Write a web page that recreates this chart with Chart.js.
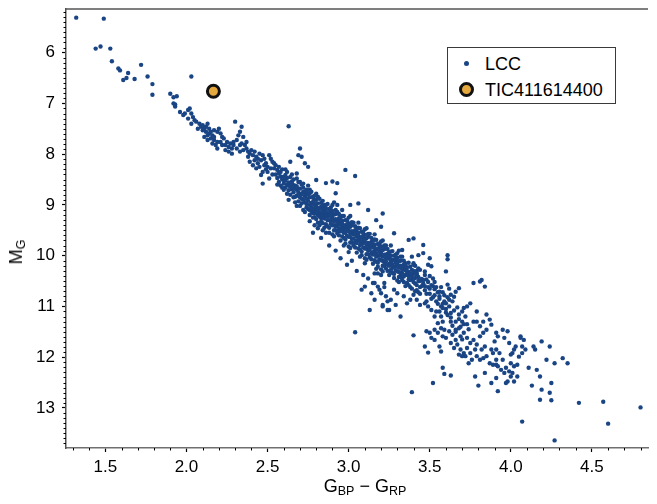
<!DOCTYPE html>
<html><head><meta charset="utf-8">
<script src="https://cdn.jsdelivr.net/npm/chart.js@4.4.1/dist/chart.umd.min.js"></script>
<style>
html,body{margin:0;padding:0;background:#fff;}
#wrap{position:relative;width:657px;height:504px;font-family:"Liberation Sans",Arial,sans-serif;color:#000;overflow:hidden;}
canvas{display:block;}
.ttl{position:absolute;white-space:nowrap;font-size:18px;line-height:18px;}
.ttl sub{font-size:12.5px;vertical-align:-3px;line-height:0;}
#xt{left:66px;width:598px;top:477px;text-align:center;}
#yt{left:16px;top:252px;transform:translate(-50%,-50%) rotate(-90deg);}
#legend{position:absolute;left:447px;top:47px;width:167px;height:55px;border:1px solid #3a3a3a;background:#fff;font-size:18px;line-height:18px;}
#legend .mk{position:absolute;border-radius:50%;box-sizing:border-box;}
#legend .tx{position:absolute;left:37px;white-space:nowrap;}
</style></head>
<body>
<div id="wrap">
<canvas id="c" width="657" height="504"></canvas>
<div class="ttl" id="xt">G<sub>BP</sub> − G<sub>RP</sub></div>
<div class="ttl" id="yt">M<sub>G</sub></div>
<div id="legend">
 <span class="mk" id="mk1"></span><span class="tx" id="tx1" style="top:7px"></span>
 <span class="mk" id="mk2"></span><span class="tx" id="tx2" style="top:33px"></span>
</div>
</div>
<script>
// ---- data (BP-RP colour, absolute G magnitude) ----
const lccLabel = 'LCC';
const targetLabel = 'TIC411614400';
const targetStar = [[2.166, 6.76]];
const lccStars = [
[1.32,5.31],[1.49,5.33],[1.44,5.92],[1.47,5.88],[1.53,5.92],[1.54,6.17],[1.58,6.31],[1.59,6.35],[1.64,6.40],[1.63,6.50],[1.61,6.54],[1.68,6.52],[1.72,6.24],[1.76,6.47],[1.79,6.62],[1.79,6.83],[2.03,6.47],[1.90,6.81],[1.92,6.88],[1.94,6.86],[1.93,7.02],
[1.92,7.00],[1.93,7.06],[1.96,7.17],[1.98,7.23],[1.99,7.20],[2.01,7.13],[2.02,7.10],[2.03,7.20],[2.01,7.30],[2.04,7.27],[2.05,7.33],[2.03,7.40],[2.06,7.36],[2.08,7.40],[2.07,7.50],[2.09,7.46],[2.10,7.43],[2.11,7.50],[2.12,7.46],[2.13,7.40],[2.14,7.50],[2.15,7.56],[2.12,7.56],[2.13,7.63],[2.16,7.63],[2.15,7.69],[2.17,7.72],[2.18,7.82],[2.17,7.53],[2.19,7.56],[2.20,7.50],[2.21,7.59],[2.22,7.66],[2.23,7.69],[2.25,7.76],[2.24,7.82],[2.26,7.86],[2.27,7.79],[2.28,7.89],[2.29,7.82],[2.30,7.36],[2.31,7.72],[2.32,7.63],[2.33,7.56],[2.34,7.46],[2.35,7.66],[2.34,7.79],[2.36,7.82],[2.37,7.89],[2.38,7.95],[2.39,7.99],[2.40,7.92],[2.41,8.02],[2.42,7.95],[2.43,8.05],[2.44,8.09],[2.45,7.99],[2.46,8.12],[2.47,8.02],[2.48,8.09],[2.39,8.15],[2.41,8.22],[2.43,8.28],[2.45,8.25],[2.47,8.35],[2.48,8.22],[2.46,8.41],[2.47,8.58],[2.44,8.18],[2.42,8.12],[2.38,8.05],[2.35,7.92],[2.33,7.95],[2.31,7.89],[2.28,7.99],[2.26,7.95],[2.24,7.92],[2.22,7.82],[2.21,7.76],[2.19,7.76],[2.17,7.66],[2.14,7.59],[2.10,7.53],[2.11,7.66],[2.13,7.72],[2.16,7.79],[2.19,7.89],[2.29,7.76],[2.33,7.82],[2.37,7.76],
[2.49,8.18],[2.50,8.25],[2.51,8.02],[2.52,8.09],[2.53,8.15],[2.54,8.28],[2.55,8.22],[2.56,8.31],[2.57,8.38],[2.59,8.45],[2.60,8.51],[2.61,8.41],[2.62,8.35],[2.63,7.45],[2.64,8.15],[2.65,8.54],[2.66,8.61],[2.67,8.64],[2.68,8.38],[2.69,8.02],[2.70,7.89],[2.71,8.05],[2.72,8.58],[2.73,8.18],[2.74,8.71],[2.75,8.25],[2.76,8.77],[2.77,8.97],[2.78,8.84],[2.79,8.90],[2.80,9.10],[2.81,9.46],[2.82,9.23],[2.83,9.04],[2.84,9.17],
[2.50,8.35],[2.52,8.28],[2.53,8.40],[2.54,8.18],[2.51,8.48],[2.49,8.30],
[2.80,8.51],[2.86,8.57],[2.90,8.54],[2.93,8.57],[2.98,8.31],[3.04,8.43],[2.92,8.77],[2.93,9.00],[3.01,9.00],[3.06,8.97],[3.12,9.10],[3.21,9.17],[3.17,9.30],[3.20,9.43],[3.28,9.56],[3.37,9.69],[3.40,9.66],[3.33,9.89],
[2.55,8.40],[2.56,8.47],[2.57,8.36],[2.57,8.55],[2.58,8.44],[2.58,8.62],[2.59,8.50],[2.59,8.30],[2.60,8.58],[2.60,8.45],[2.61,8.66],[2.61,8.52],
[2.56,8.60],[2.58,8.35],[2.60,8.70],[2.62,8.78],[2.64,8.45],[2.57,8.25],[2.61,8.30],[2.63,8.62],[2.66,8.85],[2.59,8.66],
[2.62,8.60],[2.62,8.47],[2.63,8.71],[2.63,8.56],[2.64,8.64],[2.64,8.80],[2.65,8.58],[2.65,8.69],[2.66,8.75],[2.66,8.50],[2.67,8.62],[2.67,8.84],[2.63,8.90],[2.65,8.40],
[2.66,8.68],[2.67,8.95],[2.68,8.48],[2.69,8.68],[2.70,8.78],[2.71,8.88],[2.72,8.66],[2.73,8.76],[2.74,8.98],[2.75,8.62],[2.72,9.10],[2.70,8.55],[2.68,9.02],[2.74,8.80],[2.76,8.70],
[2.68,8.70],[2.68,8.82],[2.69,8.76],[2.69,8.93],[2.70,8.68],[2.70,8.85],[2.71,8.79],[2.71,8.60],[2.72,8.90],[2.72,8.74],[2.70,9.02],[2.69,8.55],[2.71,8.97],[2.68,8.63],
[2.73,8.83],[2.73,8.95],[2.74,8.88],[2.74,9.05],[2.75,8.78],[2.75,8.92],[2.76,9.00],[2.76,8.85],[2.77,8.96],[2.77,9.12],[2.74,8.70],[2.76,9.20],[2.75,9.08],[2.73,9.14],[2.77,8.74],
[2.76,9.10],[2.77,9.04],[2.78,8.86],[2.79,9.08],[2.80,8.98],[2.81,9.20],[2.82,9.14],[2.83,8.96],[2.84,9.02],[2.85,9.22],[2.78,9.16],[2.80,8.78],[2.82,9.40],[2.84,9.36],[2.76,9.32],[2.81,8.84],[2.83,9.26],[2.85,9.07],[2.79,9.24],[2.86,9.55],
[2.78,8.94],[2.78,9.08],[2.79,9.00],[2.79,9.16],[2.80,8.90],[2.80,9.04],[2.81,9.10],[2.81,8.97],[2.82,9.06],[2.82,9.22],[2.79,8.82],[2.80,9.28],[2.81,9.35],[2.78,9.25],[2.82,8.88],[2.80,9.15],[2.79,9.40],
[2.83,9.05],[2.83,9.18],[2.84,9.10],[2.84,9.25],[2.85,9.00],[2.85,9.14],[2.86,9.20],[2.86,9.07],[2.87,9.16],[2.87,9.30],[2.84,8.92],[2.86,9.38],[2.85,9.45],[2.83,9.33],[2.87,8.98],[2.85,9.27],[2.84,9.50],
[2.86,9.13],[2.87,9.23],[2.88,9.08],[2.89,9.30],[2.90,9.20],[2.91,9.40],[2.92,9.18],[2.93,9.36],[2.94,9.26],[2.95,9.46],[2.87,9.42],[2.89,9.14],[2.91,9.62],[2.93,9.14],[2.88,9.55],[2.90,9.00],[2.92,9.50],[2.94,9.60],[2.86,9.00],[2.95,9.32],
[2.88,9.18],[2.88,9.30],[2.89,9.22],[2.89,9.37],[2.90,9.12],[2.90,9.26],[2.91,9.32],[2.91,9.19],[2.92,9.28],[2.92,9.42],[2.89,9.05],[2.91,9.50],[2.90,9.58],[2.88,9.45],[2.92,9.10],[2.90,9.40],[2.91,8.95],
[2.93,9.30],[2.93,9.42],[2.94,9.34],[2.94,9.49],[2.95,9.25],[2.95,9.38],[2.96,9.44],[2.96,9.31],[2.97,9.40],[2.97,9.55],[2.94,9.18],[2.96,9.62],[2.95,9.70],[2.93,9.56],[2.97,9.22],[2.95,9.52],[2.96,9.10],
[2.96,9.37],[2.97,9.48],[2.98,9.30],[2.99,9.52],[3.00,9.43],[3.01,9.63],[3.02,9.40],[3.03,9.58],[3.04,9.50],[3.05,9.70],[2.97,9.65],[2.99,9.38],[3.01,9.85],[3.03,9.35],[2.98,9.76],[3.00,9.25],[3.02,9.74],[3.04,9.84],[2.96,9.22],[3.05,9.55],[3.00,9.93],[2.97,9.80],
[2.98,9.42],[2.98,9.55],[2.99,9.46],[2.99,9.61],[3.00,9.36],[3.00,9.50],[3.01,9.56],[3.01,9.43],[3.02,9.52],[3.02,9.67],[2.99,9.30],[3.01,9.74],[3.00,9.82],[2.98,9.68],[3.02,9.34],[3.00,9.63],[3.01,9.22],
[3.03,9.53],[3.03,9.66],[3.04,9.58],[3.04,9.73],[3.05,9.48],[3.05,9.62],[3.06,9.68],[3.06,9.55],[3.07,9.64],[3.07,9.79],[3.04,9.42],[3.06,9.86],[3.05,9.94],[3.03,9.80],[3.07,9.46],[3.05,9.75],[3.06,9.35],
[3.06,9.60],[3.07,9.71],[3.08,9.53],[3.09,9.75],[3.10,9.66],[3.11,9.86],[3.12,9.63],[3.13,9.82],[3.14,9.73],[3.15,9.93],[3.07,9.88],[3.09,9.60],[3.11,10.08],[3.13,9.57],[3.08,9.99],[3.10,9.48],[3.12,9.97],[3.14,10.07],[3.06,9.45],[3.15,9.78],[3.10,10.15],[3.07,10.02],
[3.08,9.64],[3.08,9.77],[3.09,9.69],[3.09,9.84],[3.10,9.59],[3.10,9.72],[3.11,9.79],[3.11,9.66],[3.12,9.75],[3.12,9.90],[3.09,9.53],[3.11,9.97],[3.10,10.05],[3.08,9.92],[3.12,9.57],[3.10,9.86],[3.11,9.46],
[3.13,9.76],[3.13,9.89],[3.14,9.81],[3.14,9.96],[3.15,9.70],[3.15,9.84],[3.16,9.91],[3.16,9.78],[3.17,9.87],[3.17,10.02],[3.14,9.65],[3.16,10.09],[3.15,10.16],[3.13,10.03],[3.17,9.69],[3.15,9.98],[3.16,9.58],
[3.16,9.84],[3.17,9.95],[3.18,9.77],[3.19,9.99],[3.20,9.90],[3.21,10.10],[3.22,9.87],[3.23,10.05],[3.24,9.96],[3.25,10.16],[3.17,10.12],[3.19,9.83],[3.21,10.31],[3.23,9.80],[3.18,10.22],[3.20,9.72],[3.22,10.20],[3.24,10.30],[3.16,9.68],[3.25,10.01],[3.20,10.38],[3.17,10.26],
[3.18,9.87],[3.18,10.00],[3.19,9.92],[3.19,10.07],[3.20,9.82],[3.20,9.95],[3.21,10.02],[3.21,9.89],[3.22,9.98],[3.22,10.13],[3.19,9.76],[3.21,10.20],[3.20,10.27],[3.18,10.14],[3.22,9.80],[3.20,10.09],[3.21,9.70],
[3.23,9.98],[3.23,10.11],[3.24,10.03],[3.24,10.18],[3.25,9.93],[3.25,10.06],[3.26,10.13],[3.26,10.00],[3.27,10.09],[3.27,10.24],[3.24,9.87],[3.26,10.31],[3.25,10.38],[3.23,10.25],[3.27,9.91],[3.25,10.20],[3.26,9.80],
[3.26,10.07],[3.27,10.18],[3.28,10.00],[3.29,10.22],[3.30,10.12],[3.31,10.32],[3.32,10.10],[3.33,10.27],[3.34,10.18],[3.35,10.38],[3.27,10.34],[3.29,10.05],[3.31,10.52],[3.33,10.02],[3.28,10.44],[3.30,9.95],[3.32,10.42],[3.34,10.52],[3.26,9.92],[3.35,10.23],
[3.28,10.09],[3.28,10.22],[3.29,10.14],[3.29,10.29],[3.30,10.04],[3.30,10.17],[3.31,10.24],[3.31,10.11],[3.32,10.20],[3.32,10.35],[3.29,9.98],[3.31,10.42],[3.30,10.49],[3.28,10.36],[3.32,10.02],[3.30,10.31],[3.31,9.90],
[3.33,10.21],[3.33,10.34],[3.34,10.26],[3.34,10.41],[3.35,10.16],[3.35,10.29],[3.36,10.36],[3.36,10.23],[3.37,10.32],[3.37,10.47],[3.34,10.10],[3.36,10.54],[3.35,10.60],[3.33,10.48],[3.37,10.14],
[3.36,10.30],[3.37,10.40],[3.38,10.22],[3.39,10.46],[3.40,10.36],[3.41,10.55],[3.42,10.30],[3.43,10.42],[3.44,10.50],[3.45,10.60],[3.37,10.58],[3.39,10.28],[3.41,10.70],[3.43,10.25],[3.38,10.62],[3.40,10.15],[3.42,10.68],[3.44,10.75],
[3.38,10.35],[3.38,10.48],[3.39,10.40],[3.40,10.30],[3.40,10.52],[3.41,10.44],[3.42,10.58],[3.42,10.37],[3.43,10.50],[3.44,10.62],[3.44,10.28],[3.45,10.46],[3.39,10.65],[3.41,10.20],[3.43,10.72],
[3.46,10.55],[3.47,10.68],[3.48,10.47],[3.49,10.62],[3.50,10.75],[3.51,10.58],[3.52,10.82],[3.53,10.66],[3.54,10.90],[3.55,10.72],[3.47,10.38],[3.50,10.40],[3.53,10.52],[3.56,10.85],[3.57,10.62],[3.58,10.95],[3.59,10.78],[3.60,11.05],
[3.46,10.48],[3.47,10.60],[3.48,10.75],[3.49,10.52],[3.50,10.65],[3.51,10.85],[3.52,10.60],[3.53,10.78],[3.54,10.62],[3.55,10.95],[3.56,10.80],[3.57,11.00],[3.58,10.72],[3.59,10.90],[3.60,11.12],[3.61,10.82],[3.62,11.00],[3.63,11.22],[3.64,10.90],[3.65,11.08],[3.66,11.30],[3.67,11.02],[3.68,11.25],[3.69,11.40],[3.70,11.10],[3.71,11.35],[3.72,11.20],[3.74,11.45],[3.48,10.90],[3.52,10.45],[3.57,11.20],[3.62,10.65],[3.66,11.50],[3.70,11.65],[3.73,11.35],[3.64,11.38],[3.58,11.30],[3.54,11.10],
[3.16,10.54],[3.20,10.74],[3.22,10.62],[3.24,10.90],[3.25,11.07],[3.21,11.00],[3.29,10.97],[3.32,11.20],[3.12,10.45],[3.05,10.30],[3.09,10.38],[2.95,10.05],[2.99,10.18],[3.02,10.10],[2.88,9.80],[2.83,9.65],[2.78,9.55],[2.92,9.90],[3.18,10.35],
[3.46,9.79],[3.43,9.99],[3.46,9.95],[3.61,10.07],[3.49,10.18],[3.47,10.31],[3.82,10.48],[3.73,11.00],[3.79,11.10],[3.85,11.16],[3.65,10.81],[3.63,11.13],[3.56,10.71],
[3.61,9.99],[3.60,10.31],[3.61,10.57],[3.50,10.05],[3.51,10.21],[3.39,10.02],[3.40,10.18],[3.42,10.35],[3.35,10.15],[3.33,10.41],[3.26,10.28],[3.22,10.54],[3.16,10.35],[3.18,10.61],[3.10,10.61],[3.08,10.67],[3.14,10.74],[3.13,11.07],[3.16,10.87],[3.21,10.97],[3.24,11.07],[3.26,10.87],[3.15,10.54],[3.19,10.67],[3.23,10.80],[3.28,10.67],[3.30,10.74],[3.34,10.80],[3.36,10.94],[3.38,10.87],[3.40,10.77],[3.42,10.87],[3.44,10.97],[3.47,10.94],[3.49,11.00],[3.51,11.07],[3.53,11.20],[3.56,11.10],[3.58,11.03],[3.60,10.94],[3.62,10.87],[3.63,10.77],[3.66,10.71],[3.68,10.64],[3.61,11.17],[3.63,11.30],[3.55,11.33],[3.57,11.43],[3.59,11.46],[3.62,11.49],[3.64,11.56],[3.66,11.46],[3.68,11.43],[3.69,11.59],[3.71,11.52],[3.73,11.62],[3.66,11.66],[3.67,11.75],[3.69,11.85],[3.71,11.92],[3.73,11.82],[3.75,11.72],[3.77,11.66],[3.78,11.85],[3.79,11.75],[3.81,11.59],[3.83,11.52],[3.85,11.46],[3.87,11.26],[3.88,11.36],[3.81,10.51],[3.84,10.61],[3.77,10.54],[3.75,10.94],[3.71,11.03],[3.68,11.16],[3.70,11.30],[3.77,11.30],[3.79,11.30],[3.81,11.39],[3.83,11.30],[3.84,11.79],[3.83,12.02],[3.81,12.05],[3.85,11.98],[3.87,12.12],[3.89,12.15],[3.91,12.05],[3.92,12.18],[3.94,12.25],[3.96,12.31],[3.97,12.21],[3.99,12.28],[4.01,12.31],[3.98,12.48],[3.97,12.51],[4.02,12.48],[4.04,12.15],[4.06,11.62],[4.08,11.66],[4.07,11.79],[4.03,11.79],[4.02,11.85],[4.01,11.92],[4.07,11.92],[4.11,12.21],[4.14,11.79],[4.16,12.25],[4.18,12.38],[4.19,11.69],[4.24,11.79],[4.22,12.05],[4.27,12.12],[4.32,12.02],[4.35,12.12],[4.19,12.64],[4.24,12.70],[4.25,12.51],[4.13,12.56],[4.18,12.84],[4.25,12.85],[3.91,12.41],[3.88,12.51],[3.92,12.67],[3.80,12.56],[3.78,12.38],[3.84,12.31],[3.47,11.79],[3.49,11.91],[3.52,12.51],[3.58,12.21],[3.59,12.33],[3.63,12.36],[3.57,11.89],[3.56,11.79],[3.53,11.66],[3.51,11.62],[3.48,11.49],[3.50,11.52],[3.53,11.46],[3.55,11.52],[3.58,11.59],[3.60,11.62],[3.63,11.72],[3.65,11.82],[3.68,11.95],[3.70,11.98],[3.72,11.98],[3.74,12.12],[3.76,12.05],[3.75,11.92],[3.79,11.98],[3.82,11.85],[3.88,11.85],[3.90,11.69],[3.92,11.59],[3.95,11.46],[3.98,11.49],[3.96,11.62],[3.99,11.72],[3.91,11.85],[3.89,11.92],[3.93,11.92],[3.95,12.05],[4.00,12.12],[4.02,12.18],[4.04,12.38],
[3.91,11.52],[4.06,11.59],[4.09,11.85],[4.15,11.85],[4.00,11.95],[3.91,12.15],[4.00,12.38],[4.05,11.99],
[3.04,11.51],[3.39,12.69],[3.40,11.57],[4.07,13.27],[4.42,12.90],[4.57,12.88],[4.80,12.99],[4.60,13.31],[4.27,13.64]
];
const xTickValues = [1.5, 2.0, 2.5, 3.0, 3.5, 4.0, 4.5];
const yTickValues = [6, 7, 8, 9, 10, 11, 12, 13];
const xRange = [1.257, 4.846];
const yRange = [5.14, 13.79];

// ---- styles ----
const lccColor = '#1a4585';
const targetFill = '#e4a83c';
const targetEdge = '#111111';
const fontFamily = '"Liberation Sans", Arial, sans-serif';

const minorTicks = {
  id: 'minorTicks',
  afterDraw(chart) {
    const {ctx, chartArea: a, scales: {x, y}} = chart;
    ctx.save();
    ctx.strokeStyle = '#000';
    ctx.lineWidth = 1;
    ctx.beginPath();
    for (let i = 13; i <= 48; i++) {
      if (i % 5 === 0) continue;
      const px = Math.round(x.getPixelForValue(i / 10)) + 0.5;
      ctx.moveTo(px, a.bottom); ctx.lineTo(px, a.bottom + 2.5);
    }
    for (let i = 52; i <= 137; i++) {
      if (i % 10 === 0) continue;
      const py = Math.round(y.getPixelForValue(i / 10)) + 0.5;
      ctx.moveTo(a.left, py); ctx.lineTo(a.left - 2.5, py);
    }
    ctx.stroke();
    ctx.strokeStyle = '#555';
    ctx.lineWidth = 1.5;
    ctx.beginPath();
    ctx.moveTo(a.left, a.top); ctx.lineTo(a.right, a.top);
    ctx.stroke();
    ctx.restore();
  }
};

const toPts = arr => arr.map(([x, y]) => ({x, y}));
const noPad = s => { s.paddingTop = 0; s.paddingBottom = 0; s.paddingLeft = 0; s.paddingRight = 0; };

new Chart(document.getElementById('c'), {
  type: 'scatter',
  data: {
    datasets: [
      {label: targetLabel, data: toPts(targetStar), order: 0, pointRadius: 6, borderWidth: 3,
       backgroundColor: targetFill, borderColor: targetEdge},
      {label: lccLabel, data: toPts(lccStars), order: 1, pointRadius: 2.2, borderWidth: 0,
       backgroundColor: lccColor, borderColor: lccColor}
    ]
  },
  options: {
    responsive: false, devicePixelRatio: 1, animation: false, events: [],
    layout: {padding: {top: 8, right: 0, left: 0, bottom: 0}},
    plugins: {legend: {display: false}, tooltip: {enabled: false}},
    scales: {
      x: {
        type: 'linear', min: xRange[0], max: xRange[1],
        afterBuildTicks: s => { s.ticks = xTickValues.map(v => ({value: v})); },
        afterFit: s => { s.height = 56; noPad(s); },
        grid: {display: true, drawOnChartArea: false, drawTicks: true, tickLength: 4, tickColor: '#000', tickWidth: 1.2},
        border: {display: true, color: '#707070', width: 1.5},
        ticks: {font: {family: fontFamily, size: 17}, color: '#000', padding: 5, maxRotation: 0, autoSkip: false,
                callback: v => Number(v).toFixed(1)}
      },
      y: {
        type: 'linear', reverse: true, min: yRange[0], max: yRange[1],
        afterBuildTicks: s => { s.ticks = yTickValues.map(v => ({value: v})); },
        afterFit: s => { s.width = 66; noPad(s); },
        grid: {display: true, drawOnChartArea: false, drawTicks: true, tickLength: 4, tickColor: '#000', tickWidth: 1.2},
        border: {display: true, color: '#505050', width: 1.5},
        ticks: {font: {family: fontFamily, size: 17}, color: '#000', padding: 7, autoSkip: false,
                callback: v => String(v)}
      }
    }
  },
  plugins: [minorTicks]
});

// legend (HTML, styled from the dataset styles)
const mk1 = document.getElementById('mk1');
Object.assign(mk1.style, {left: '16px', top: '13px', width: '5px', height: '5px', background: lccColor});
const mk2 = document.getElementById('mk2');
Object.assign(mk2.style, {left: '11px', top: '34px', width: '15px', height: '15px', background: targetFill, border: '3px solid ' + targetEdge});
document.getElementById('tx1').textContent = lccLabel;
document.getElementById('tx2').textContent = targetLabel;
</script>
</body></html>
